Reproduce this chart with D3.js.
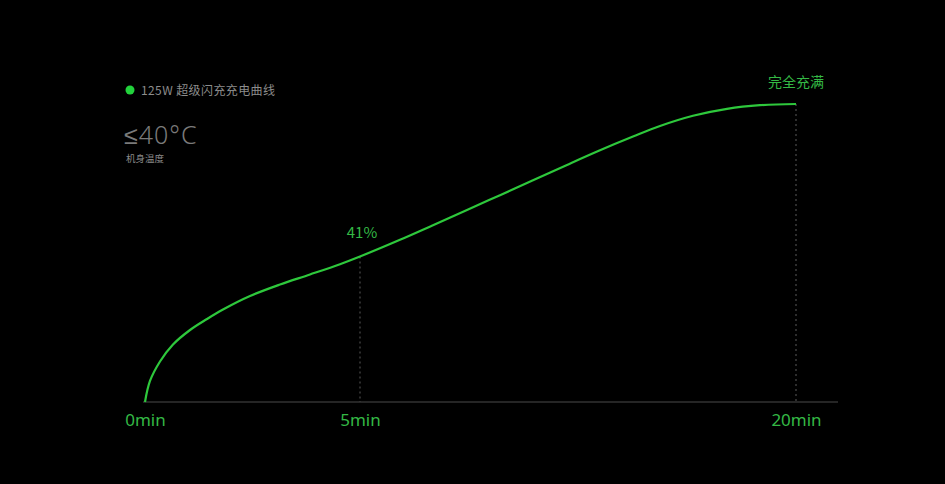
<!DOCTYPE html>
<html>
<head>
<meta charset="utf-8">
<script src="https://cdn.jsdelivr.net/npm/d3@7"></script>
<style>
    html, body { margin: 0; padding: 0; background: #000; }
</style>
</head>
<body>
<div id="charge-chart"></div>
<script>
// charging time in minutes
const minutes = [0, 0.116, 0.349, 0.651, 1.047, 1.442, 1.814, 2.442, 3.14, 3.837, 4.535, 5,
                 6.376, 7.511, 8.681, 9.817, 10.952, 12.122, 13.257, 14.392, 15.321, 16.456, 17.626, 18.761, 20];
// battery level in percent
const percent = [0, 5.92, 11.41, 16.2, 20.29, 23.39, 26.06, 29.87, 33.11, 35.93, 38.84, 41,
                 47.46, 53.11, 58.99, 64.72, 70.48, 76.44, 82.09, 87.39, 91.49, 95.44, 98.14, 99.54, 100];

const tickMinutes = [0, 5, 20];
const markMinutes = [5, 20];
const markPercent = [41, 100];
const markLabels  = ["41%", "完全充满"];

const legendLabel = "125W 超级闪充充电曲线";
const tempLabel   = "≤40°C";
const tempCaption = "机身温度";

const data = minutes.map((m, i) => ({ t: m, p: percent[i] }));

const width = 945;
const height = 484;
const green = "#2ec83c";
const greenText = "#34b845";

const svg = d3.select("#charge-chart")
    .append("svg")
    .attr("width", width)
    .attr("height", height)
    .style("background", "#000")
    .style("display", "block");

// the marketing chart is not linear, so both scales are piecewise
const xScale = d3.scaleLinear()
    .domain([0, 5, 20])
    .range([145, 360, 796]);

const yScale = d3.scaleLinear()
    .domain([0, 41, 100])
    .range([402, 256.5, 104]);

// baseline
svg.append("line")
    .attr("x1", xScale(0) - 2)
    .attr("x2", xScale(20) + 42)
    .attr("y1", yScale(0))
    .attr("y2", yScale(0))
    .attr("stroke", "#4a4a4a")
    .attr("stroke-width", 1.2);

const bottomAxis = d3.axisBottom(xScale)
    .tickValues(tickMinutes)
    .tickFormat(d => `${d}min`)
    .tickSize(0)
    .tickPadding(12);

svg.append("g")
    .attr("class", "axis-x")
    .attr("transform", `translate(0, ${yScale(0)})`)
    .call(bottomAxis)
    .call(g => g.select(".domain").remove());

d3.selectAll(".axis-x text")
    .attr("fill", greenText)
    .style("font-family", "'Noto Sans', sans-serif")
    .style("font-size", "17px");

// dotted guides
svg.selectAll(".guide")
    .data(markMinutes)
    .join("line")
        .attr("class", "guide")
        .attr("x1", d => xScale(d))
        .attr("x2", d => xScale(d))
        .attr("y1", (d, i) => yScale(markPercent[i]))
        .attr("y2", yScale(0))
        .attr("stroke", "#5a5a5a")
        .attr("stroke-width", 1)
        .attr("stroke-dasharray", "2,3");

const lineGenerator = d3.line()
    .x(d => xScale(d.t))
    .y(d => yScale(d.p))
    .curve(d3.curveCatmullRom.alpha(0.5));

svg.append("path")
    .attr("d", lineGenerator(data))
    .attr("fill", "none")
    .attr("stroke", green)
    .attr("stroke-width", 2.2);

svg.selectAll(".mark-label")
    .data(markMinutes)
    .join("text")
        .attr("class", "mark-label")
        .text((d, i) => markLabels[i])
        .attr("x", (d, i) => xScale(d) + (i === 0 ? 2 : 0))
        .attr("y", (d, i) => yScale(markPercent[i]) - (i === 0 ? 19 : 17))
        .attr("text-anchor", "middle")
        .attr("fill", greenText)
        .style("font-family", "'Noto Sans CJK SC', 'Noto Sans', sans-serif")
        .style("font-size", (d, i) => i === 0 ? "15px" : "14px");

// legend
svg.append("circle")
    .attr("cx", 130)
    .attr("cy", 90)
    .attr("r", 4.5)
    .attr("fill", "#22d23c");

svg.append("text")
    .text(legendLabel)
    .attr("x", 141)
    .attr("y", 95)
    .attr("fill", "#8c8c8c")
    .style("font-family", "'Noto Sans CJK SC', sans-serif")
    .style("font-size", "12px")
    .style("letter-spacing", "0.4px");

svg.append("text")
    .text(tempLabel)
    .attr("x", 124)
    .attr("y", 144)
    .attr("fill", "#7a7a7a")
    .style("font-family", "'Noto Sans', 'DejaVu Sans', sans-serif")
    .style("font-weight", 300)
    .style("font-size", "25px")
    .style("letter-spacing", "1px");

svg.append("text")
    .text(tempCaption)
    .attr("x", 126)
    .attr("y", 162)
    .attr("fill", "#8a8a8a")
    .style("font-family", "'Noto Sans CJK SC', sans-serif")
    .style("font-size", "9.5px");
</script>
</body>
</html>
